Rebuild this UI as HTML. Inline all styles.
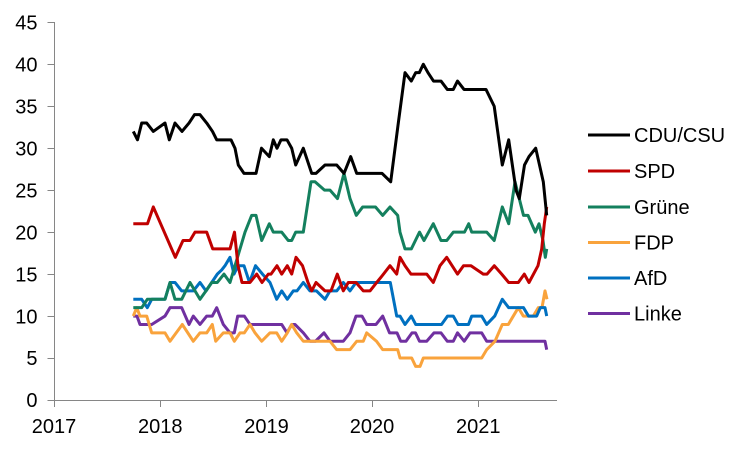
<!DOCTYPE html>
<html>
<head>
<meta charset="utf-8">
<style>
html,body{margin:0;padding:0;background:#fff;}
svg{display:block;}
text{font-family:"Liberation Sans",Arial,sans-serif;font-size:20px;fill:#000;}
</style>
</head>
<body>
<svg width="750" height="450" viewBox="0 0 750 450" xmlns="http://www.w3.org/2000/svg">
<rect width="750" height="450" fill="#fff"/>
<!-- axes -->
<g stroke="#868686" stroke-width="1" fill="none" shape-rendering="crispEdges">
<line x1="54.5" y1="22" x2="54.5" y2="400"/>
<line x1="54" y1="400.5" x2="557" y2="400.5"/>
<line x1="47.5" y1="400.5" x2="54.5" y2="400.5"/>
<line x1="47.5" y1="358.5" x2="54.5" y2="358.5"/>
<line x1="47.5" y1="316.5" x2="54.5" y2="316.5"/>
<line x1="47.5" y1="274.5" x2="54.5" y2="274.5"/>
<line x1="47.5" y1="232.5" x2="54.5" y2="232.5"/>
<line x1="47.5" y1="190.5" x2="54.5" y2="190.5"/>
<line x1="47.5" y1="148.5" x2="54.5" y2="148.5"/>
<line x1="47.5" y1="106.5" x2="54.5" y2="106.5"/>
<line x1="47.5" y1="64.5" x2="54.5" y2="64.5"/>
<line x1="47.5" y1="22.5" x2="54.5" y2="22.5"/>
<line x1="54.5" y1="400" x2="54.5" y2="407"/>
<line x1="160.5" y1="400" x2="160.5" y2="407"/>
<line x1="266.5" y1="400" x2="266.5" y2="407"/>
<line x1="372.5" y1="400" x2="372.5" y2="407"/>
<line x1="478.5" y1="400" x2="478.5" y2="407"/>
</g>
<!-- y labels -->
<g text-anchor="end">
<text x="37.5" y="407.2">0</text>
<text x="37.5" y="365.2">5</text>
<text x="37.5" y="323.3">10</text>
<text x="37.5" y="281.3">15</text>
<text x="37.5" y="239.3">20</text>
<text x="37.5" y="197.4">25</text>
<text x="37.5" y="155.4">30</text>
<text x="37.5" y="113.4">35</text>
<text x="37.5" y="71.5">40</text>
<text x="37.5" y="29.5">45</text>
</g>
<!-- x labels -->
<g text-anchor="middle">
<text x="54" y="433">2017</text>
<text x="160.3" y="433">2018</text>
<text x="266.5" y="433">2019</text>
<text x="372" y="433">2020</text>
<text x="478.3" y="433">2021</text>
</g>
<!-- series -->
<g transform="translate(0,400) scale(1,-8.393)" fill="none" stroke-width="3" stroke-linejoin="round" stroke-linecap="butt">
<!-- Linke -->
<polyline vector-effect="non-scaling-stroke" stroke="#7030A0" points="133.3,10 137,10 140,9 151.7,9 165,10 170,11 181.7,11 189,9 193.3,10 200,9 206.7,10 212.3,10 216.7,11 223.3,9 230,8 234.3,8 237.7,10 244.3,10 250,9 281.7,9 287,8 291.7,9 295,9 303.3,8 310,7 315.5,7 324,8 330,7 343.3,7 350,8 356,10 362,10 366.7,9 376,9 382.7,10 389.5,8 397,8 400.7,7 406,7 412,8 415.5,8 419.5,7 426.7,7 434,8 441,8 447.3,7 453.3,7 457.5,8 464.2,7 470,8 481.7,8 486.7,7 545,7 546.7,6"/>
<!-- FDP -->
<polyline vector-effect="non-scaling-stroke" stroke="#F9A33C" points="133.3,10 136.7,11 140,10 146.7,10 151.7,8 165,8 170,7 182.3,9 193.3,7 200,8 206.7,8 212.3,9 215.7,7 223.3,8 230,8 234.3,7 240,8 244.3,8 250,9 255,8 261.7,7 270,8 276.7,8 281.7,7 287.3,8 291.7,9 296.7,8 303.3,7 330,7 336.7,6 350,6 356.7,7 363.3,7 366.7,8 376.5,7 382.7,6 397.7,6 400,5 411.7,5 415.7,4 420,4 423.3,5 481.7,5 486.7,6 495,7 502.3,9 508.3,9 513.3,10 518.3,11 523.3,10 533.3,10 538.3,11 542,11 545,13 547,12"/>
<!-- AfD -->
<polyline vector-effect="non-scaling-stroke" stroke="#0070C0" points="133.3,12 141.7,12 147.3,11 151.7,12 165,12 170,14 175,14 181.7,13 193.3,13 200,14 206,13 211.7,14 217.3,15 221.7,15.5 225,16 230,17 234,15 238,16 244,16 249.5,14 255.5,16 262.5,15 270,14 276.7,12 281.7,13 287.3,12 293.3,13 297,13 303.3,14 310,13 316.5,13 325,12 330,13 336.7,13 343.3,14 350,13 356,14 390.3,14 396.7,10 400,10 405,9 411.3,10 415.7,9 441.5,9 447.5,10 453.3,10 458,9 468.5,9 471.7,10 481.7,10 486.7,9 494.7,10 502.3,12 508.7,11 523.5,11 528.5,10 536.7,10 540.3,11 545,11 546.7,10"/>
<!-- Grüne -->
<polyline vector-effect="non-scaling-stroke" stroke="#14805E" points="133.3,11 141.7,11 147.3,12 165,12 170,14 175,12 181.7,12 190,14 195,13 200,12 206,13 211.7,14 217.3,14 224,15 230,14 235,16 245,20 251.7,22 256,22 261.7,19 269.3,21 273.3,20 281.7,20 288.3,19 291.7,19 295.7,20 303.3,20 311,26 315,26 324.5,25 330,25 337.5,24 344,27 350,24 356.3,22 362.7,23 375.5,23 382.7,22 390,23 397.7,22 400,20 405,18 411.3,18 419.5,20 424,19 433.3,21 441,19 446.7,19 453.3,20 464.5,20 468.7,21 471.7,20 486.7,20 494.2,19 502.3,23 508.7,21 515,26 523.5,22 528,22 535.3,20 539,21 543,19 545.3,17 546.7,18"/>
<!-- SPD -->
<polyline vector-effect="non-scaling-stroke" stroke="#C00000" points="133.3,21 147.5,21 153.3,23 175.3,17 183,19 190,19 195,20 206.7,20 212.7,18 230,18 234.5,20 238,16 242,14 250,14 256.7,15 262,14 268.3,15 271,15 277,16 281.7,15 287.3,16 291.7,15 296,17 302.5,16 308,14 311.7,13 316,14 325,13 331,13 337.3,15 343.3,13 348.3,14 356,14 363.3,13 370,13 376.7,14 383.5,15 390,16 396.7,15 400,17 405,16 411,15 426.7,15 433.3,14 440,16 446.7,17 457.5,15 463.5,16 471,16 483.3,15 487,15 494.3,16 501.7,15 508.7,14 518.3,14 524.3,15 529,14 538,16 541.7,18 544.3,21 546.7,23"/>
<!-- CDU/CSU -->
<polyline vector-effect="non-scaling-stroke" stroke="#000000" points="133.3,32 137.5,31 141.7,33 146.7,33 153.3,32 165,33 169.3,31 175,33 182,32 189,33 194.5,34 200,34 206.7,33 212.5,32 216.7,31 231,31 235,30 238.3,28 244,27 256,27 261.5,30 269.3,29 273.3,31 277,30 281,31 287,31 291.7,30 295.7,28 303.3,30 311.7,27 316,27 325,28 336.7,28 344,27 350.7,29 356.7,27 382,27 390.7,26 398.3,33 405,39 411.3,38 415.7,39 419.3,39 423.3,40 428,39 433.5,38 441,38 447.3,37 453.3,37 457.5,38 464,37 486,37 494.2,35 502.3,28 508.7,31 516,25 519.3,24 524.5,28 529,29 535.7,30 543.3,26 546.7,22"/>
</g>
<!-- legend -->
<g stroke-width="3" fill="none">
<line x1="588" y1="135" x2="630" y2="135" stroke="#000000"/>
<line x1="588" y1="171" x2="630" y2="171" stroke="#C00000"/>
<line x1="588" y1="207" x2="630" y2="207" stroke="#14805E"/>
<line x1="588" y1="242.5" x2="630" y2="242.5" stroke="#F9A33C"/>
<line x1="588" y1="278" x2="630" y2="278" stroke="#0070C0"/>
<line x1="588" y1="313.5" x2="630" y2="313.5" stroke="#7030A0"/>
</g>
<text x="634" y="142.2">CDU/CSU</text>
<text x="634" y="178.2">SPD</text>
<text x="634" y="214.2">Grüne</text>
<text x="634" y="249.7">FDP</text>
<text x="634" y="285.2">AfD</text>
<text x="634" y="320.7">Linke</text>
</svg>
</body>
</html>
